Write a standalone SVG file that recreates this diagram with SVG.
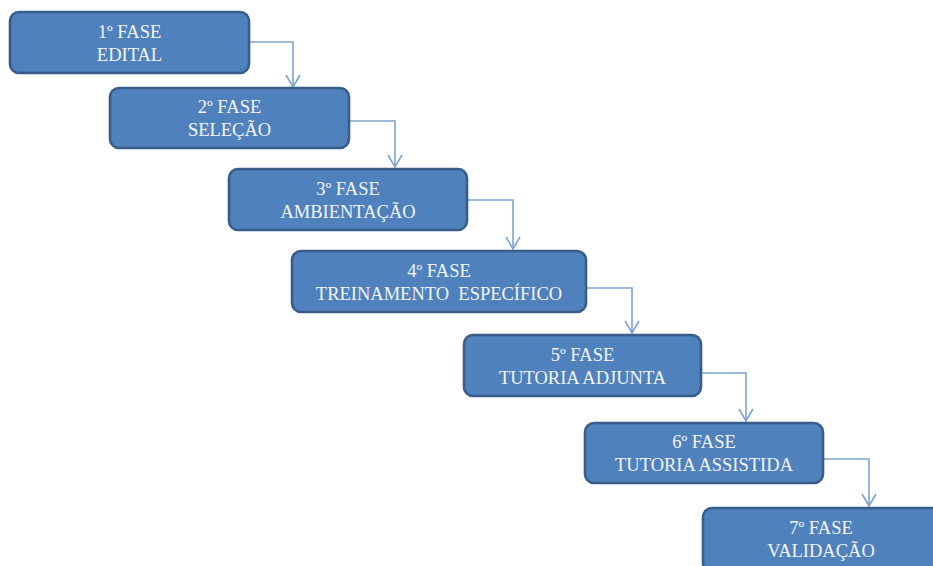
<svg xmlns="http://www.w3.org/2000/svg" width="933" height="566" viewBox="0 0 933 566">
<style>
.box{fill:#4F81BD;stroke:#385D8A;stroke-width:2.6}
.t{font-family:"Liberation Serif","Times New Roman",serif;font-size:18.5px;fill:#F4F6FA;text-anchor:middle}
.c{fill:none;stroke:#7EA3D0;stroke-width:1.6}
</style>
<defs>
<marker id="ah" markerUnits="userSpaceOnUse" markerWidth="20" markerHeight="20" viewBox="-14 -10 16 20" refX="0" refY="0" orient="auto">
<path d="M-12,-7 L0,0 L-12,7" fill="none" stroke="#7EA3D0" stroke-width="1.6"/>
</marker>
</defs>
<rect width="933" height="566" fill="#ffffff"/>
<g id="connectors">
<path class="c" d="M249,42 H293 V87" marker-end="url(#ah)"/>
<path class="c" d="M349,121 H395 V167" marker-end="url(#ah)"/>
<path class="c" d="M467,200 H513 V249" marker-end="url(#ah)"/>
<path class="c" d="M586,288 H632 V333" marker-end="url(#ah)"/>
<path class="c" d="M701,373 H746 V421" marker-end="url(#ah)"/>
<path class="c" d="M823,459 H869 V506" marker-end="url(#ah)"/>
</g>
<g id="fase1"><rect class="box" x="10" y="12" width="239" height="61" rx="9"/><text class="t" x="129.5" y="38">1º FASE</text><text class="t" x="129.5" y="61">EDITAL</text></g>
<g id="fase2"><rect class="box" x="110" y="88" width="239" height="60" rx="9"/><text class="t" x="229.5" y="113">2º FASE</text><text class="t" x="229.5" y="136">SELEÇÃO</text></g>
<g id="fase3"><rect class="box" x="229" y="169" width="238" height="61" rx="9"/><text class="t" x="348" y="195">3º FASE</text><text class="t" x="348" y="218">AMBIENTAÇÃO</text></g>
<g id="fase4"><rect class="box" x="292" y="251" width="294" height="61" rx="9"/><text class="t" x="439" y="277">4º FASE</text><text class="t" x="439" y="300" xml:space="preserve">TREINAMENTO  ESPECÍFICO</text></g>
<g id="fase5"><rect class="box" x="464" y="335" width="237" height="61" rx="9"/><text class="t" x="582.5" y="361">5º FASE</text><text class="t" x="582.5" y="384">TUTORIA ADJUNTA</text></g>
<g id="fase6"><rect class="box" x="585" y="423" width="238" height="60" rx="9"/><text class="t" x="704" y="448">6º FASE</text><text class="t" x="704" y="471">TUTORIA ASSISTIDA</text></g>
<g id="fase7"><rect class="box" x="703" y="508" width="240" height="64" rx="9"/><text class="t" x="821" y="534">7º FASE</text><text class="t" x="821" y="557">VALIDAÇÃO</text></g>
</svg>
